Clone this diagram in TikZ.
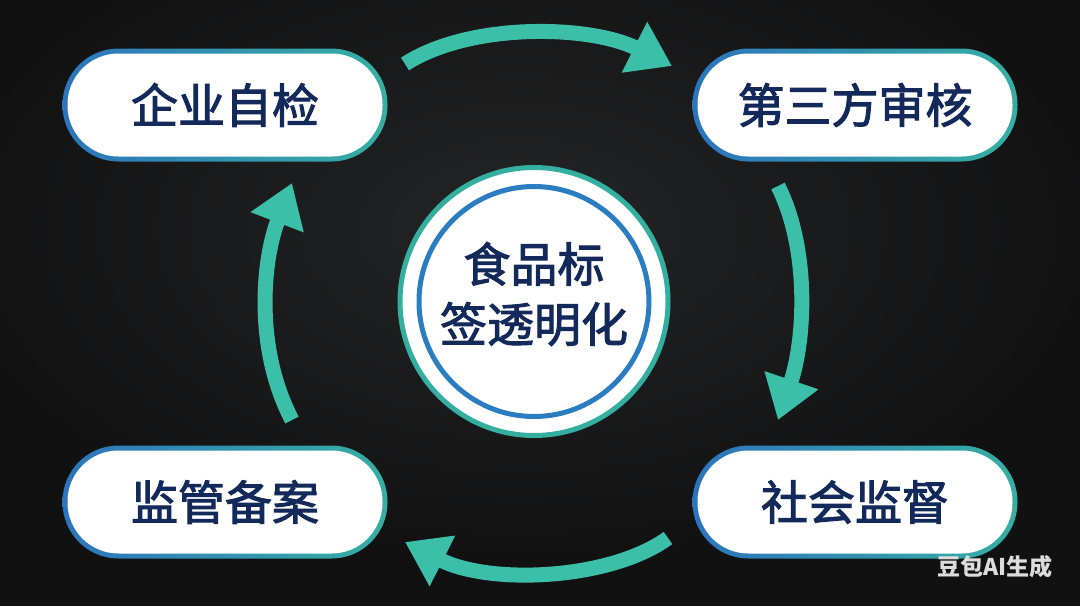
\documentclass[tikz,border=0pt]{standalone}
\usepackage{fontspec}
\newfontfamily\cjk{Noto Sans CJK SC}
\newfontfamily\cjkm{Noto Sans CJK SC}[FakeBold=2.2]
\usetikzlibrary{arrows.meta}
\definecolor{bgdark}{HTML}{111112}
\definecolor{bglight}{HTML}{242526}
\definecolor{pillblue}{HTML}{2C74BC}
\definecolor{pillteal}{HTML}{36AFA2}
\definecolor{navy}{HTML}{13295A}
\definecolor{ringteal}{HTML}{34AE9F}
\definecolor{ringblue}{HTML}{2A7DC0}
\definecolor{arrowc}{HTML}{3CBFA9}
\definecolor{wmgray}{HTML}{DCDCDC}
\begin{document}
\begin{tikzpicture}[x=1pt,y=-1pt,
  pill/.style={rounded corners=56pt, minimum width=325pt, minimum height=113pt,
    left color=pillblue, right color=pillteal, inner sep=0pt,
    font=\cjkm\fontsize{47}{50}\selectfont, text=navy,
    path picture={\fill[white, rounded corners=51pt]
      ([shift={(5pt,-5pt)}]path picture bounding box.north west) rectangle
      ([shift={(-5pt,5pt)}]path picture bounding box.south east);}},
  flow/.style={draw=arrowc, line width=15pt, -{Triangle[length=42pt,width=54pt]}}
]
\useasboundingbox (0,0) rectangle (1080,606);
\fill[bgdark] (0,0) rectangle (1080,606);
\shade[inner color=bglight, outer color=bgdark] (520,230) ellipse (580pt and 330pt);

% nodes
\node[pill] (A) at (225,105) {企业自检};
\node[pill] (B) at (855,105) {第三方审核};
\node[pill] (C) at (855,502) {社会监督};
\node[pill] (D) at (225,502) {监管备案};

\node[circle, minimum size=268pt, draw=ringteal, line width=5pt, fill=white] (hub) at (534,301.5) {};
\node[circle, minimum size=230pt, draw=ringblue, line width=5pt] (ring) at (hub.center) {};
\node[align=center, text=navy, font=\cjkm\fontsize{47}{60}\selectfont] (title) at (534,294) {食品标\\签透明化};

\node[text=wmgray, font=\cjk\bfseries\fontsize{23}{23}\selectfont] (wm) at (995,567) {豆包AI生成};

% arrow ends
\coordinate (t1) at (405,64);
\coordinate (t2) at (672,66);
\coordinate (r1) at (778,186);
\coordinate (r2) at (778,420);
\coordinate (b1) at (668,538);
\coordinate (b2) at (405,542);
\coordinate (l1) at (292,420);
\coordinate (l2) at (292,183);

\draw[flow] (t1) .. controls (470,22) and (590,25) .. (t2);
\draw[flow] (r1) .. controls (810,250) and (805,340) .. (r2);
\draw[flow] (b1) .. controls (610,580) and (490,585) .. (b2);
\draw[flow] (l1) .. controls (255,350) and (262,262) .. (l2);
\end{tikzpicture}
\end{document}
